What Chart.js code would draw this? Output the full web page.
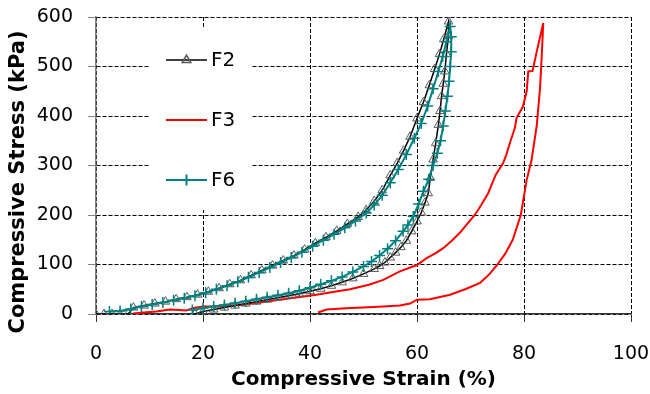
<!DOCTYPE html>
<html>
<head>
<meta charset="utf-8">
<script src="https://cdn.jsdelivr.net/npm/chart.js@4/dist/chart.umd.min.js"></script>
<style>
  body { margin: 0; background: #fff; }
  #wrap { width: 650px; height: 394px; }
</style>
</head>
<body>
<div id="wrap"><canvas id="loopChart" width="650" height="394"></canvas></div>
<script>
// tick values
const xTicks = [0, 20, 40, 60, 80, 100];
const yTicks = [0, 100, 200, 300, 400, 500, 600];

// F2: loading then unloading
const f2Strain = [0, 1.5, 3, 4.5, 6, 7, 9, 11, 13, 15, 17, 19, 21, 23, 25, 27, 29, 31, 33, 35, 37, 39, 41, 43, 45, 47, 49, 50.5, 52, 53.5, 55, 56.3, 57.5, 58.7, 60, 61.2, 62.3, 63.3, 64.2, 65, 65.9,
  65.9, 65.5, 65.2, 64.9, 64.6, 64.3, 64, 63.5, 63, 62.5, 62.1, 61.5, 60.8, 60, 59, 58, 57, 56, 55, 54, 53, 52, 50, 48, 46, 44, 42, 40, 38, 36, 34, 32, 30, 28, 26, 24, 22, 20, 18.5];
const f2Stress = [0, 0, 0, 0, 0, 13, 17, 21, 25, 30, 34, 39, 45, 52, 60, 68, 78, 88, 98, 108, 118, 130, 143, 155, 168, 182, 196, 210, 228, 250, 280, 305, 330, 358, 395, 428, 462, 495, 525, 555, 591,
  562, 525, 490, 465, 440, 410, 382, 345, 312, 275, 244, 225, 205, 187, 167, 148, 135, 124, 114, 104, 97, 91, 81, 72, 64, 57, 51, 46, 41, 37, 33, 29, 25, 21, 17, 13, 9, 5, 0];

// F3
const f3Strain = [6.9, 9, 11.3, 13.8, 15.5, 16.9, 18.2, 20, 23.8, 27, 30, 35, 41.2, 44, 47.5, 51, 53.7, 56.8, 60, 61.8, 63.5, 64.9, 66.5, 68, 70.8, 72, 73.3, 74.7, 76.1, 76.7, 77.5, 78.3, 78.6, 79.8, 80.5, 80.8, 81.6, 82.4, 83.6,
  83.3, 83, 82.4, 81.4, 80.5, 79.4, 77.9, 76.5, 74.9, 73.5, 71.8, 69, 66.2, 62.4, 60, 58.7, 56.8, 53.7, 50, 47.5, 43.1, 41.5];
const f3Stress = [1, 3, 5, 9, 8, 7, 12, 15, 15, 18, 22, 30, 39, 44, 50, 59, 69, 86, 99, 113, 123, 133, 148, 164, 200, 220, 244, 281, 305, 322, 350, 376, 396, 419, 450, 490, 491, 531, 588,
  518, 457, 382, 310, 271, 200, 150, 122, 98, 80, 63, 50, 39, 30, 29, 21, 17, 15, 13, 12, 9, 3];

// F6
const f6Strain = [2.5, 4.5, 6.5, 8.5, 10.5, 12.5, 14.5, 16.5, 18.5, 20.5, 22.5, 24.5, 26.5, 28.5, 30.5, 32.5, 34.5, 36.5, 38.5, 40.5, 42.5, 44.5, 46.5, 48.5, 50.5, 52, 53.5, 55, 56.5, 58, 59.5, 60.8, 62, 63, 64, 64.8, 65.5, 66.2,
  66.4, 66.4, 66.2, 66, 65.7, 65.3, 64.9, 64.4, 63.8, 63, 62.2, 61.2, 60.3, 59.3, 58.3, 57.4, 56, 54.5, 53, 51.5, 50, 48, 46, 44, 42, 40, 38, 36, 34, 32, 30, 28, 26, 24, 22, 20, 18];
const f6Stress = [5, 6, 10, 15, 19, 23, 28, 32, 37, 43, 50, 57, 65, 74, 84, 94, 104, 114, 125, 137, 149, 161, 174, 188, 204, 220, 240, 265, 292, 322, 355, 385, 420, 455, 490, 520, 550, 581,
  560, 530, 500, 470, 440, 410, 380, 350, 325, 300, 272, 248, 222, 197, 180, 167, 148, 132, 118, 106, 96, 85, 75, 67, 60, 53, 47, 42, 38, 34, 30, 26, 22, 18, 15, 12, 8];

const seriesNames = ['F2', 'F3', 'F6'];
const yTitle = 'Compressive Stress (kPa)';

function toPoints(xs, ys) {
    return xs.map((x, i) => ({ x: x, y: ys[i] }));
}

const fontFamily = "'DejaVu Sans', sans-serif";

// legend drawn inside the plot, like the original
const insideLegend = {
    id: 'insideLegend',
    afterDraw(chart) {
        const ctx = chart.ctx;
        ctx.save();
        ctx.fillStyle = '#fff';
        ctx.fillRect(150, 28, 102, 182);
        const rows = [60, 120, 180];
        chart.data.datasets.forEach((ds, i) => {
            const y = rows[i];
            ctx.strokeStyle = ds.borderColor;
            ctx.lineWidth = ds.borderWidth;
            ctx.beginPath();
            ctx.moveTo(166, y);
            ctx.lineTo(207, y);
            ctx.stroke();
            if (ds.pointRadius > 0) {
                ctx.strokeStyle = ds.pointBorderColor;
                ctx.fillStyle = ds.pointBackgroundColor;
                Chart.helpers.drawPoint(ctx, {
                    pointStyle: ds.pointStyle,
                    radius: ds.pointRadius,
                    rotation: 0,
                    borderWidth: ds.pointBorderWidth
                }, 186.5, y);
            }
            ctx.fillStyle = '#000';
            ctx.font = "20px " + fontFamily;
            ctx.textBaseline = 'middle';
            ctx.textAlign = 'left';
            ctx.fillText(ds.label, 211, y + 1);
        });

        // y axis title sits a bit lower than the plot centre in the original
        ctx.translate(19, 182);
        ctx.rotate(-Math.PI / 2);
        ctx.font = "bold 21px " + fontFamily;
        ctx.textAlign = 'center';
        ctx.textBaseline = 'middle';
        ctx.fillText(yTitle, 0, 0);
        ctx.restore();
    }
};

const ctx = document.getElementById('loopChart').getContext('2d');
new Chart(ctx, {
    type: 'scatter',
    data: {
        datasets: [{
            label: seriesNames[0],
            data: toPoints(f2Strain, f2Stress),
            showLine: true,
            borderColor: '#000',
            borderWidth: 1.5,
            pointStyle: 'triangle',
            pointRadius: 5,
            pointBorderColor: '#5a5a5a',
            pointBackgroundColor: 'rgba(0,0,0,0)',
            pointBorderWidth: 1,
            order: 1
        }, {
            label: seriesNames[1],
            data: toPoints(f3Strain, f3Stress),
            showLine: true,
            borderColor: '#ff0000',
            borderWidth: 2,
            pointRadius: 0,
            order: 2
        }, {
            label: seriesNames[2],
            data: toPoints(f6Strain, f6Stress),
            showLine: true,
            borderColor: '#008080',
            borderWidth: 2,
            pointStyle: 'cross',
            pointRadius: 5.5,
            pointBorderColor: '#008080',
            pointBackgroundColor: '#008080',
            pointBorderWidth: 1.5,
            order: 0
        }]
    },
    options: {
        responsive: false,
        animation: false,
        layout: { padding: { left: 0, right: 19, top: 17, bottom: 0 } },
        plugins: {
            legend: { display: false },
            tooltip: { enabled: false }
        },
        scales: {
            x: {
                type: 'linear',
                min: 0,
                max: 100,
                afterFit: s => { s.height = 80; s.paddingLeft = 0; s.paddingRight = 0; },
                afterBuildTicks: s => { s.ticks = xTicks.map(v => ({ value: v })); },
                grid: { color: '#000', lineWidth: 1, tickLength: 8, tickColor: '#333', tickBorderDash: [] },
                border: { display: true, color: '#333', width: 1.5, dash: [4, 2] },
                ticks: { color: '#000', padding: 21, maxRotation: 0, font: { family: fontFamily, size: 19 } },
                title: {
                    display: true,
                    text: 'Compressive Strain (%)',
                    color: '#000',
                    padding: { top: 0, bottom: 2 },
                    font: { family: fontFamily, size: 20, weight: 'bold' }
                }
            },
            y: {
                type: 'linear',
                min: 0,
                max: 600,
                afterFit: s => { s.width = 96; s.paddingTop = 0; s.paddingBottom = 0; },
                afterBuildTicks: s => { s.ticks = yTicks.map(v => ({ value: v })); },
                grid: { color: '#000', lineWidth: 1, tickLength: 8, tickColor: '#808080', tickBorderDash: [] },
                border: { display: true, color: '#808080', width: 1.5, dash: [4, 2] },
                ticks: { color: '#000', padding: 15, font: { family: fontFamily, size: 19 } },
                title: { display: false }
            }
        }
    },
    plugins: [insideLegend]
});
</script>
</body>
</html>
